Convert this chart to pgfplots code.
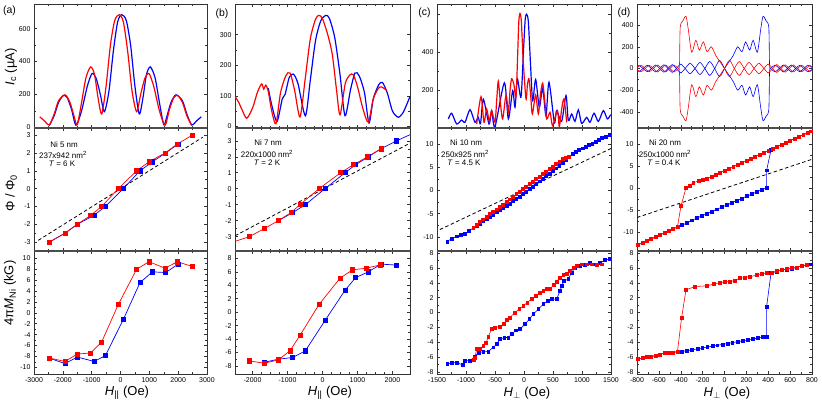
\documentclass[border=0pt]{standalone}
\usepackage{fontspec}
\setmainfont{Liberation Sans}
\usepackage{pgfplots}
\pgfplotsset{compat=1.18}

\definecolor{pred}{RGB}{255,0,0}
\definecolor{pblue}{RGB}{0,0,255}

\pgfplotsset{
  panel/.style={scale only axis, width=#1, anchor=north west,
    axis line style={line width=0.6bp, black!80},
    tick style={black!80, line width=0.5bp},
    major tick length=3bp, minor tick length=1.8bp,
    minor tick num=1, tick align=inside,
    tick label style={font=\fontsize{7}{8}\selectfont},
    /pgf/number format/assume math mode=true,
    /pgf/number format/1000 sep={}},
  toprow/.style={height=124bp, xticklabels={}},
  midrow/.style={height=123bp, xticklabels={}},
  botrow/.style={height=123bp},
  ic/.style={line width=1.2bp, smooth, tension=0.45},
  icd/.style={line width=0.6bp, smooth, tension=0.45},
  sq/.style={line width=0.7bp, mark=square*, mark size=2.1bp},
  sqs/.style={line width=0.6bp, mark=square*, mark size=1.45bp},
  dash/.style={black, line width=0.8bp, dash pattern=on 3.5bp off 2.5bp},
}

\begin{document}
\begin{tikzpicture}
\useasboundingbox (0,0) rectangle (822bp,407bp);

% ---------------- column (a) ----------------
\begin{axis}[panel=173bp, toprow, at={(34bp,403bp)},
  xmin=-3000, xmax=3000, ymin=-5, ymax=750,
  xtick={-3000,-2000,...,3000}, ytick={0,200,400,600}]
\addplot[pblue, ic] coordinates {
(-2470,10) (-2300,70) (-2150,150) (-1985,193) (-1850,180) (-1700,110) (-1545,12)
(-1350,100) (-1150,250) (-990,326) (-850,300) (-700,200) (-560,94) (-400,220)
(-250,460) (-100,640) (40,685) (200,650) (350,500) (500,250) (650,80) (780,180)
(900,320) (1035,367) (1200,300) (1350,150) (1500,14) (1600,60) (1750,150)
(1925,197) (2150,160) (2300,80) (2470,14) (2650,40) (2800,63)};
\addplot[pred, ic] coordinates {
(-2800,63) (-2650,40) (-2470,14) (-2300,80) (-2150,160) (-1925,197) (-1750,150)
(-1600,60) (-1500,14) (-1350,150) (-1200,300) (-1035,367) (-900,320) (-780,180)
(-650,80) (-500,250) (-350,500) (-200,650) (-40,685) (100,640) (250,460) (400,220)
(560,94) (700,200) (850,300) (990,326) (1150,250) (1350,100) (1545,12) (1700,110)
(1850,180) (1985,193) (2150,150) (2300,70) (2470,10)};
\end{axis}

\begin{axis}[panel=173bp, midrow, at={(34bp,279bp)},
  xmin=-3000, xmax=3000, ymin=-3.5, ymax=3.4,
  xtick={-3000,-2000,...,3000}, ytick={-3,-2,...,3}]
\addplot[dash] coordinates {(-2850,-2.9) (2850,2.88)};
\addplot[pblue, sq] coordinates {
(-2468,-3) (-1925,-2.5) (-1497,-2) (-919,-1.5) (-526,-1) (98,0) (676,1)
(1104,1.5) (1565,2) (2000,2.5)};
\addplot[pred, sq] coordinates {
(-2468,-3) (-1925,-2.5) (-1497,-2) (-1035,-1.5) (-653,-1) (-75,0) (560,1)
(988,1.5) (1543,2) (1971,2.5) (2491,3)};
\end{axis}

\begin{axis}[panel=173bp, botrow, at={(34bp,156bp)},
  xmin=-3000, xmax=3000, ymin=-11.2, ymax=11.3,
  xtick={-3000,-2000,...,3000}, ytick={-10,-8,...,10}]
\addplot[pblue, sq] coordinates {
(-2468,-8.3) (-1925,-9.3) (-1497,-8.1) (-919,-8.9) (-526,-7.85) (98,-1.23)
(676,5.52) (1104,7.48) (1565,7.36) (2000,8.9)};
\addplot[pred, sq] coordinates {
(-2468,-8.28) (-1925,-8.9) (-1497,-7.55) (-1035,-7.36) (-653,-5.34) (-75,1.53)
(560,7.98) (988,9.33) (1543,8.16) (1971,9.33) (2491,8.47)};
\end{axis}

% ---------------- column (b) ----------------
\begin{axis}[panel=175bp, toprow, at={(235bp,403bp)},
  xmin=-2500, xmax=2500, ymin=-5, ymax=400, minor x tick num=3,
  xtick={-2000,-1000,...,2000}, ytick={0,100,200,300}]
\addplot[pblue, ic] coordinates {
(-1550,125) (-1450,70) (-1300,16) (-1150,90) (-1071,104) (-950,160) (-833,171)
(-700,140) (-490,35) (-350,150) (-200,280) (-50,345) (100,363) (200,352)
(350,290) (500,170) (643,35) (800,120) (929,175) (1050,165) (1200,110)
(1329,11) (1450,90) (1600,135) (1710,144) (1850,110) (2000,50) (2166,30)
(2300,45) (2400,70) (2500,98)};
\addplot[pred, ic] coordinates {
(-2500,98) (-2400,80) (-2300,55) (-2166,27) (-2000,60) (-1850,115) (-1737,139)
(-1680,122) (-1620,135) (-1550,115) (-1450,50) (-1329,9) (-1200,110) (-1050,165)
(-929,175) (-800,120) (-643,31) (-500,150) (-350,285) (-200,350) (-100,363)
(0,352) (150,300) (280,235) (400,120) (500,38) (650,140) (780,168) (880,169)
(1000,130) (1150,60) (1309,14) (1450,90) (1600,125) (1690,129) (1833,118)};
\end{axis}

\begin{axis}[panel=175bp, midrow, at={(235bp,279bp)},
  xmin=-2500, xmax=2500, ymin=-3.9, ymax=3.8, minor x tick num=3,
  xtick={-2000,-1000,...,2000}, ytick={-3,-2,...,3}]
\addplot[dash] coordinates {(-2500,-2.95) (2500,2.85)};
\addplot[pblue, line width=0.7bp] coordinates {(2119,3) (2500,3.38)};
\addplot[pblue, sq] coordinates {
(-1262,-2) (-852,-1.5) (-490,-1) (71,0) (643,1) (948,1.5) (1310,2) (1671,2.5)
(2119,3)};
\addplot[pred, line width=0.7bp] coordinates {(-2500,-3.3) (-2091,-3)};
\addplot[pred, sq] coordinates {
(-2091,-3) (-1662,-2.5) (-1262,-2) (-900,-1.5) (-643,-1) (-100,0) (519,1)
(881,1.5) (1290,2) (1671,2.5)};
\end{axis}

\begin{axis}[panel=175bp, botrow, at={(235bp,156bp)},
  xmin=-2500, xmax=2500, ymin=-9.2, ymax=9.1, minor x tick num=3,
  xtick={-2000,-1000,...,2000}, ytick={-8,-6,...,8}]
\addplot[pblue, sq] coordinates {
(-1662,-7.45) (-1262,-7.0) (-852,-6.75) (-490,-5.75) (71,-1.25) (643,3.25)
(948,5.15) (1310,6.0) (1671,7.15) (2119,7.0)};
\addplot[pred, sq] coordinates {
(-2091,-7.25) (-1662,-7.6) (-1262,-7.1) (-929,-5.75) (-643,-3.45) (-100,1.15)
(500,5.05) (862,6.3) (1262,6.55) (1662,7.05)};
\end{axis}

% ---------------- column (c) ----------------
\begin{axis}[panel=174bp, toprow, at={(437bp,403bp)},
  xmin=-1500, xmax=1500, ymin=-2, ymax=654,
  xtick={-1500,-1000,...,1500}, ytick={0,200,400,600}, yticklabels={,200,400,}]
\addplot[pblue, ic] coordinates {
(-1305,46) (-1247,76) (-1161,19) (-1075,40) (-1017,28) (-931,95) (-845,28)
(-790,55) (-750,20) (-701,150) (-603,19) (-558,90) (-500,5) (-339,237)
(-270,46) (-195,196) (-155,108) (-115,258) (-52,161) (-10,400) (20,570)
(46,600) (75,560) (110,350) (149,143) (201,255) (264,108) (322,209) (379,63)
(431,240) (523,28) (563,90) (649,33) (724,170) (764,37) (822,72) (879,33)
(937,94) (994,22) (1080,54) (1138,28) (1207,76) (1282,33) (1368,90) (1437,46)
(1494,69)};
\addplot[pred, ic] coordinates {
(-816,19) (-741,164) (-690,28) (-644,99) (-598,33) (-558,90) (-500,28)
(-470,150) (-443,246) (-410,140) (-368,46) (-310,173) (-270,81) (-240,200)
(-213,258) (-175,230) (-138,161) (-110,380) (-90,560) (-69,604) (-45,560)
(-15,360) (34,152) (60,230) (86,258) (115,170) (144,72) (201,173) (247,72)
(285,180) (322,235) (355,150) (391,46) (448,81) (494,10) (575,90) (609,5)
(650,100) (690,152) (736,28)};
\end{axis}

\begin{axis}[panel=174bp, midrow, at={(437bp,279bp)},
  xmin=-1500, xmax=1500, ymin=-13, ymax=13.4,
  xtick={-1500,-1000,...,1500}, ytick={-10,-5,...,10}]
\addplot[dash] coordinates {(-1450,-8.4) (1500,9.0)};
\addplot[pblue, sqs] coordinates {
(-1322,-10.95) (-1250,-10.35) (-1160,-9.85) (-1090,-9.6) (-1017,-9.27)
(-945,-8.65) (-874,-8.04) (-817,-7.55) (-760,-7.1) (-703,-6.55) (-646,-6.1)
(-589,-5.6) (-532,-5.15) (-475,-4.7) (-418,-4.25) (-361,-3.75) (-304,-3.3)
(-247,-2.8) (-190,-2.3) (-133,-1.8) (-76,-1.3) (-19,-0.8) (38,-0.25) (95,0.3)
(152,0.85) (209,1.4) (266,1.95) (323,2.5) (380,3.05) (437,3.65) (494,4.2)
(551,4.75) (608,5.3) (665,5.9) (722,6.5) (779,7.2) (836,7.85) (893,8.3)
(950,8.7) (1007,9.05) (1064,9.4) (1121,9.75) (1178,10.1) (1235,10.45)
(1292,10.85) (1349,11.2) (1406,11.6) (1471,11.96)};
\addplot[pred, sqs] coordinates {
(-874,-8.04) (-817,-7.4) (-760,-6.8) (-703,-6.2) (-646,-5.65) (-589,-5.1)
(-532,-4.55) (-475,-4.05) (-418,-3.5) (-361,-3.0) (-304,-2.45) (-247,-1.9)
(-190,-1.35) (-133,-0.8) (-76,-0.25) (-19,0.3) (38,0.85) (95,1.4) (152,1.9)
(209,2.45) (266,3.0) (323,3.5) (380,4.05) (437,4.6) (494,5.15) (551,5.7)
(608,6.2) (665,6.7) (722,7.05) (779,7.3)};
\end{axis}

\begin{axis}[panel=174bp, botrow, at={(437bp,156bp)},
  xmin=-1500, xmax=1500, ymin=-8.3, ymax=8.3,
  xtick={-1500,-1000,...,1500}, ytick={-8,-6,...,8}]
\addplot[pblue, sqs] coordinates {
(-1322,-6.97) (-1247,-6.74) (-1161,-6.74) (-1063,-7.06) (-1017,-6.5)
(-931,-6.5) (-845,-5.93) (-787,-5.4) (-701,-5.3) (-615,-5.26) (-529,-4.7)
(-471,-4.27) (-414,-3.6) (-339,-3.37) (-270,-3.37) (-213,-2.9) (-138,-2.4)
(-69,-2.25) (17,-1.57) (92,-0.9) (161,-0.22) (247,0.45) (333,1.12) (408,1.57)
(477,1.8) (563,1.8) (621,2.92) (650,3.6) (690,4.27) (764,4.5) (822,5.4)
(879,6.07) (966,6.3) (1052,6.38) (1138,6.65) (1224,6.5) (1310,6.65)
(1397,7.1) (1471,7.2)};
\addplot[pred, sqs] coordinates {
(-870,-6.4) (-845,-6.07) (-816,-4.94) (-759,-4.85) (-701,-4.5) (-655,-4.13)
(-615,-3.24) (-558,-2.25) (-500,-2.02) (-414,-1.9) (-356,-1.57) (-299,-0.99)
(-241,-0.67) (-155,0.0) (-81,0.45) (-12,0.9) (57,1.35) (132,1.8) (207,2.25)
(276,2.7) (333,2.92) (391,3.15) (448,3.15) (506,3.69) (563,4.18) (621,4.72)
(678,5.03) (736,5.17) (793,5.6) (851,6.07) (908,6.3) (994,6.5) (1080,6.5)
(1167,6.5) (1253,6.38) (1339,6.5)};
\end{axis}

% ---------------- column (d) ----------------
\begin{axis}[panel=175bp, toprow, at={(637bp,403bp)},
  xmin=-800, xmax=800, ymin=-549, ymax=595,
  xtick={-800,-600,...,800}, ytick={-400,-200,...,400}]
\addplot[pblue, icd] coordinates {
(-800,10) (-782,28) (-744,0) (-706,-30) (-668,0) (-630,32) (-592,0) (-554,-34)
(-516,0) (-478,36) (-440,0) (-400,-40) (-360,0) (-315,48) (-270,0) (-225,-56)
(-180,0) (-135,64) (-90,0) (-45,-75) (0,0) (40,60) (80,120) (120,200) (160,155)
(193,245) (230,170) (262,260) (300,150) (331,360) (352,481) (380,440) (405,380)
(412,30) (425,5) (462,32) (500,0) (538,-32) (575,0) (612,32) (650,0) (688,-30)
(725,0) (762,30) (800,10)};
\addplot[pblue, icd] coordinates {
(-800,-10) (-782,-28) (-744,0) (-706,30) (-668,0) (-630,-32) (-592,0) (-554,34)
(-516,0) (-478,-36) (-440,0) (-400,40) (-360,0) (-315,-48) (-270,0) (-225,56)
(-180,0) (-135,-64) (-90,0) (-45,75) (0,0) (40,-60) (80,-120) (120,-200)
(160,-155) (193,-245) (230,-170) (262,-260) (300,-150) (331,-360) (352,-481)
(380,-440) (405,-380) (412,-30) (425,-5) (462,-32) (500,0) (538,32) (575,0)
(612,-32) (650,0) (688,30) (725,0) (762,-30) (800,-10)};
\addplot[pred, icd] coordinates {
(-800,10) (-762,30) (-725,0) (-688,-30) (-650,0) (-612,32) (-575,0) (-538,-32)
(-500,0) (-462,32) (-425,5) (-412,30) (-405,380) (-380,440) (-352,481)
(-331,360) (-300,150) (-262,260) (-230,170) (-193,245) (-160,155) (-120,200)
(-80,120) (-40,60) (0,0) (45,-75) (90,0) (135,64) (180,0) (225,-56) (270,0)
(315,48) (360,0) (400,-40) (440,0) (478,36) (516,0) (554,-34) (592,0) (630,32)
(668,0) (706,-30) (744,0) (782,28) (800,10)};
\addplot[pred, icd] coordinates {
(-800,-10) (-762,-30) (-725,0) (-688,30) (-650,0) (-612,-32) (-575,0) (-538,32)
(-500,0) (-462,-32) (-425,-5) (-412,-30) (-405,-380) (-380,-440) (-352,-481)
(-331,-360) (-300,-150) (-262,-260) (-230,-170) (-193,-245) (-160,-155)
(-120,-200) (-80,-120) (-40,-60) (0,0) (45,75) (90,0) (135,-64) (180,0)
(225,56) (270,0) (315,-48) (360,0) (400,40) (440,0) (478,-36) (516,0) (554,34)
(592,0) (630,-32) (668,0) (706,30) (744,0) (782,-28) (800,-10)};
\end{axis}

\begin{axis}[panel=175bp, midrow, at={(637bp,279bp)},
  xmin=-800, xmax=800, ymin=-14.3, ymax=13.6,
  xtick={-800,-600,...,800}, ytick={-10,-5,...,10}]
\addplot[dash] coordinates {(-800,-6.7) (800,6.5)};
\addplot[pblue, sqs] coordinates {
(-790,-12.9) (-750,-12.45) (-710,-12.0) (-670,-11.55) (-630,-11.1)
(-590,-10.65) (-550,-10.2) (-510,-9.75) (-470,-9.3) (-430,-8.85) (-390,-8.45)
(-346,-8.0) (-300,-7.34) (-254,-6.84) (-208,-6.34) (-162,-5.84) (-116,-5.34)
(-70,-4.84) (-24,-4.35) (22,-3.85) (68,-3.36) (114,-2.85) (160,-2.36)
(206,-1.85) (252,-1.36) (298,-0.86) (340,-0.4) (385,0.0) (385,4.0) (425,8.6)
(440,8.91) (480,9.36) (520,9.82) (560,10.27) (600,10.72) (640,11.17)
(680,11.61) (720,12.08) (760,12.52) (790,12.86)};
\addplot[pred, sqs] coordinates {
(-790,-12.9) (-750,-12.45) (-710,-12.0) (-670,-11.55) (-630,-11.1)
(-590,-10.65) (-550,-10.2) (-510,-9.75) (-470,-9.3) (-430,-8.8) (-398,-4.08)
(-352,0.02) (-320,0.51) (-285,1.2) (-239,1.55) (-200,1.8) (-160,2.14)
(-120,2.58) (-80,3.04) (-40,3.49) (0,3.95) (40,4.39) (80,4.84) (120,5.3)
(160,5.75) (200,6.2) (240,6.65) (280,7.1) (320,7.56) (360,8.01) (400,8.46)
(440,8.91) (480,9.36) (520,9.82) (560,10.27) (600,10.72) (640,11.17)
(680,11.61) (720,12.08) (760,12.52) (790,12.86)};
\end{axis}

\begin{axis}[panel=175bp, botrow, at={(637bp,156bp)},
  xmin=-800, xmax=800, ymin=-8.3, ymax=8.3,
  xtick={-800,-600,...,800}, ytick={-8,-6,...,8}]
\addplot[pblue, sqs] coordinates {
(-790,-6.25) (-750,-6.15) (-710,-6.0) (-670,-5.95) (-630,-5.8) (-590,-5.65)
(-550,-5.5) (-510,-5.45) (-470,-5.4) (-430,-5.3) (-392,-5.25) (-346,-5.17)
(-300,-5.05) (-248,-4.91) (-203,-4.79) (-157,-4.66) (-108,-4.53) (-66,-4.43)
(-17,-4.3) (26,-4.19) (71,-4.07) (120,-3.94) (166,-3.82) (212,-3.7)
(257,-3.58) (303,-3.46) (349,-3.34) (385,-3.24) (385,0.81) (425,5.3)
(477,5.55) (523,5.72) (568,5.82) (614,5.95) (660,6.05) (705,6.28) (751,6.42)
(790,6.5)};
\addplot[pred, sqs] coordinates {
(-790,-6.25) (-750,-6.15) (-710,-6.0) (-670,-5.95) (-630,-5.8) (-590,-5.65)
(-550,-5.5) (-510,-5.45) (-470,-5.4) (-430,-5.25) (-392,-0.67) (-352,3.06)
(-270,3.5) (-163,3.6) (-102,3.82) (-41,4.04) (4,4.13) (50,4.18) (96,4.31)
(141,4.63) (187,4.72) (233,4.85) (294,5.03) (340,5.17) (385,5.3) (431,5.39)
(477,5.57) (523,5.75) (568,5.84) (614,5.98) (660,6.07) (705,6.3) (751,6.43)};
\end{axis}

% thick separators between rows
\foreach \xa/\xb in {34/207, 235/410, 437/611, 637/812} {
  \draw[line width=2.4bp, black!70] (\xa bp,279bp) -- (\xb bp,279bp);
  \draw[line width=2.4bp, black!70] (\xa bp,156bp) -- (\xb bp,156bp);
}

% labels, in picture pixels (y down)
\begin{scope}[shift={(0bp,407bp)}, x=1bp, y=-1bp]
\begin{scope}[font=\fontsize{10.5}{12}\selectfont]
\node at (9.5,11) {(a)};
\node at (222,13.5) {(b)};
\node at (424.5,12.5) {(c)};
\node at (624,12.5) {(d)};
\end{scope}
\begin{scope}[font=\fontsize{13}{15}\selectfont]
\node[rotate=90] at (11,67) {\textit{I}\textsubscript{c} (µA)};
\node[rotate=90] at (11,193) {Φ / Φ\textsubscript{0}};
\node[rotate=90] at (10,293) {4π\textit{M}\textsubscript{Ni} (kG)};
\node at (127,393) {\textit{H}\textsubscript{||} (Oe)};
\node at (330,393) {\textit{H}\textsubscript{||} (Oe)};
\node at (527,393) {\textit{H}\textsubscript{$\perp$} (Oe)};
\node at (727,393) {\textit{H}\textsubscript{$\perp$} (Oe)};
\end{scope}
\begin{scope}[font=\fontsize{8}{9}\selectfont]
\node at (64,145) {Ni 5 nm};
\node at (63,155) {237x942 nm\textsuperscript{2}};
\node at (62,164) {\textit{T} = 6 K};
\node at (268,143) {Ni 7 nm};
\node at (267,154) {220x1000 nm\textsuperscript{2}};
\node at (267,163) {\textit{T} = 2 K};
\node at (466,143) {Ni 10 nm};
\node at (465,154) {250x925 nm\textsuperscript{2}};
\node at (464,163) {\textit{T} = 4.5 K};
\node at (665,143) {Ni 20 nm};
\node at (665,154) {250x1000 nm\textsuperscript{2}};
\node at (664,163) {\textit{T} = 0.4 K};
\end{scope}
\end{scope}
\end{tikzpicture}
\end{document}
